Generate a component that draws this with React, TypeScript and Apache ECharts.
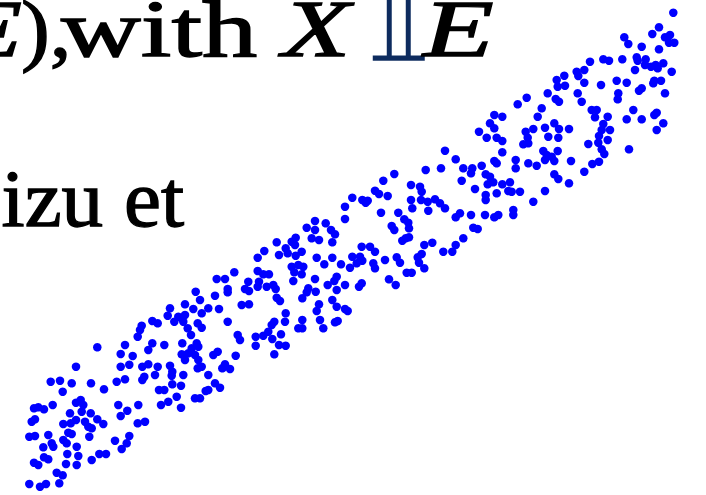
import React, { useEffect, useRef } from "react";
import * as echarts from "echarts";

// Scatter values, grouped in strips from lower-left to upper-right
const stripA: number[][] = [
  [97.3, 347.3], [125, 345], [120.7, 354], [132.7, 356], [76, 366.7], [120.7, 366.7], [129.3, 364.7],
  [50.7, 381.7], [60, 380.7], [62.7, 391.7], [71.7, 383.3], [91, 383.3], [104, 389.3], [116.7, 381.7],
  [125, 379.3], [34, 408.3], [38.3, 407.3], [44, 409.3], [52.7, 405], [76, 402.7], [80.7, 400], [83.3, 405],
  [81.7, 411.7], [70, 413.3], [90.7, 413.3], [118.3, 405], [127.3, 410.7], [120.7, 416], [31.7, 421.7],
  [35, 419.3], [63.3, 424], [70.7, 423.3], [76, 420], [85, 421.7], [88.3, 426.7], [91.7, 428.3], [97.3, 419.3],
  [103.3, 424], [29.3, 436.7], [35, 436], [48.3, 435], [68.3, 432.7], [71.7, 434], [63.3, 440], [89.3, 436.7],
  [66.7, 443.3], [76.7, 446.7], [53.3, 446.7], [43.3, 447.3], [51.7, 443.3], [115, 440.7], [129.3, 436],
  [126.7, 443.3], [121.7, 449], [67.3, 454], [78.3, 456], [91.7, 460], [99.3, 454], [106, 454], [44, 457.3],
  [48.3, 459.3], [34, 462.7], [38.3, 465], [66, 464], [76.7, 465], [56.7, 472.7], [62.7, 475.3], [29.3, 484],
  [40, 486.7], [46, 484], [59.3, 483.3],
];

const stripB: number[][] = [
  [234.3, 272.3], [216.7, 279], [225, 279], [195.7, 291.7], [227.7, 289], [227.7, 292.3], [215, 295.7],
  [200, 300], [185, 304.3], [170, 308.3], [193.3, 309], [208.3, 308.3], [219, 309], [167.7, 315.7],
  [178.3, 316.7], [181.7, 318.3], [185, 315], [201.7, 313.3], [241.7, 305], [152.3, 321], [157.7, 323.3],
  [174.3, 321.7], [183.3, 321.7], [187.7, 328.3], [197.7, 323.3], [201.7, 327.7], [227.7, 321.7], [191, 335],
  [141.7, 325.7], [140, 330], [137.7, 336.7], [237.7, 335], [240, 340], [182.3, 343.3], [196.7, 343.3],
  [164.3, 345], [152.3, 343.3], [148.3, 350], [191.7, 348.3], [198.3, 346.7], [181.7, 354.3], [185, 355],
  [188.3, 353.3], [195, 355], [185, 360], [198.3, 360], [213.3, 355], [217.7, 351.7], [235.7, 355.7],
  [142.3, 366.7], [148.3, 364.3], [157.7, 366.7], [170, 365.7], [172.3, 371.7], [197.7, 368.3], [201.7, 366.7],
  [225, 364.3], [222.3, 368.3], [230, 369], [142.3, 380], [144.3, 376.7], [155, 375], [171.7, 375.7],
  [183.3, 375], [208.3, 375], [172.3, 384.3], [181, 385.7], [215, 383.3], [220, 387.7], [159, 390],
  [164.3, 390], [205.7, 391], [208.3, 390], [176.7, 396.7], [168.3, 401.7], [161, 405], [195, 398.3],
  [200, 398.3], [181, 407.7], [138.3, 405], [137.7, 423.3], [145, 421.7],
];

const stripC: number[][] = [
  [352.3, 197.7], [345, 206.7], [345, 219], [315, 221], [325.7, 223.3], [306.7, 227.7], [315, 230], [331, 230],
  [335, 234.3], [295.7, 237.7], [276.7, 242.3], [291.7, 241.7], [285.7, 248.3], [295, 245], [311.7, 238.3],
  [319, 240], [332.3, 242.3], [264.3, 251], [257.7, 257.7], [279, 255], [287.7, 253.3], [301.7, 251.7],
  [295.7, 255.7], [316.7, 257.7], [332.3, 257.7], [324.3, 264.3], [341, 264.3], [352.3, 256.7], [350, 267.7],
  [291.7, 266.7], [298.3, 265], [303.3, 266.7], [257.7, 271], [263.3, 274.3], [269, 274.3], [294.3, 272.3],
  [301.7, 274.3], [293.3, 281], [315, 279], [336.7, 276.7], [334.3, 281], [259, 281.7], [248.3, 281.7],
  [245, 289], [249, 291], [257.7, 286.7], [266.7, 286.7], [273.3, 285], [275.7, 289], [327.7, 285], [345, 285],
  [308.3, 288.3], [315.7, 291.7], [306.7, 292.3], [302.3, 298.3], [336.7, 290], [276.7, 297.7], [280, 301],
  [249, 304.3], [332.3, 300], [319, 304.3], [336.7, 306.7], [345, 309], [347.7, 311], [316.7, 311],
  [285.7, 313.3], [285, 321.7], [274.3, 321.7], [271.7, 325], [320, 320], [302.3, 320], [337.7, 321],
  [335, 322.3], [298.3, 328.3], [302.3, 328.3], [323.3, 328.3], [268.3, 331.7], [263.3, 335.7], [255.7, 336.7],
  [281, 334.3], [272.3, 339], [255.7, 345.7], [279, 345], [285.7, 345.7], [274.3, 354.3],
];

const stripD: number[][] = [
  [445, 150.7], [455.7, 159.3], [463.3, 168.3], [425.7, 170], [441, 168.3], [394.3, 174], [383.3, 180.7],
  [461.7, 180.7], [411, 185], [420, 186.7], [421.7, 191.7], [375, 190.7], [379, 194], [387.7, 196],
  [362.3, 200], [367.7, 200.7], [365.7, 202.7], [411, 200], [421, 200], [427.7, 201.7], [435, 199.3],
  [440, 203.3], [445, 208.3], [412.3, 208.3], [428.3, 210.7], [381, 212.7], [398.3, 212.7], [455.7, 217.3],
  [460, 213.3], [404.3, 219.3], [408.3, 222.7], [409, 228.3], [391.7, 226], [394.3, 230], [405.7, 238.3],
  [409, 237.3], [402.3, 240.7], [424.3, 245], [432.3, 242.7], [463.3, 238.3], [455.7, 245], [452.3, 251.7],
  [443.3, 251.7], [361.7, 246.7], [370, 246.7], [375, 251.7], [360, 256.7], [356.7, 263.3], [362.3, 260.7],
  [373.3, 263.3], [375, 268.3], [385, 260], [396.7, 257.3], [400, 262.7], [417.7, 257.3], [421.7, 254],
  [419, 262.7], [424.3, 268.3], [406.7, 272.7], [411.7, 272.7], [389, 279.3], [395.7, 285], [361.7, 283.3],
  [359, 286.7],
];

const stripE: number[][] = [
  [564.3, 75.7], [556.7, 80], [565, 85.7], [557.7, 86.7], [547.7, 93.3], [555.7, 99], [559, 101.7],
  [526.7, 97.7], [517.7, 104.3], [541.7, 108.3], [537.7, 116.7], [494.3, 115], [502.3, 116.7], [490, 123.3],
  [494.3, 128.3], [479, 131.7], [486.7, 137.7], [496.7, 137.7], [502.3, 141], [525.7, 131.7], [533.3, 129],
  [527.7, 137.7], [523.3, 144.3], [528.3, 143.3], [545, 127.7], [554.3, 123.3], [559, 129], [569, 129],
  [548.3, 136.7], [558.3, 137.7], [502.3, 152.3], [543.3, 151], [546.7, 155], [551.7, 156.7], [557.7, 151],
  [545, 160], [554.3, 161], [571, 161], [515.7, 160], [528.3, 163.3], [536.7, 165.7], [494.3, 161],
  [496.7, 163.3], [515.7, 168.3], [472.3, 168.3], [471, 173.3], [481.7, 165.7], [485.7, 174.3], [490, 176.7],
  [487.7, 184.3], [493.3, 182.3], [502.3, 184.3], [510, 182.3], [508.3, 191], [511.7, 191.7], [520, 191.7],
  [496.7, 193.3], [475, 189], [485.7, 195], [485.7, 200], [545, 191], [554.3, 174.3], [558.3, 179],
  [569, 183.3], [533.3, 201.7], [471, 215], [485, 215], [494.3, 217.3], [498.3, 215], [513.3, 210],
  [513.3, 215], [473.3, 227.7], [477.7, 229],
];

const stripF: number[][] = [
  [673.3, 12.7], [659, 27.3], [652.3, 34], [665, 37.3], [670, 35], [669, 42.7], [674.3, 42.7], [624.3, 37.3],
  [628.3, 44], [641.7, 46.7], [659, 49.3], [622.3, 59.3], [636.7, 57.3], [637.7, 60.7], [645.7, 59.3],
  [645, 65], [651, 66.7], [655.7, 65], [657.7, 68.3], [663.3, 63.3], [635, 70], [671.7, 71.7], [603.3, 59.3],
  [609, 60.7], [590, 61.7], [584.3, 70], [576.7, 71.7], [578.3, 76], [584.3, 82.7], [601, 85], [616.7, 80.7],
  [626.7, 82.7], [654.3, 80.7], [661, 80.7], [653.3, 83.3], [639, 90.7], [641.7, 88.3], [665, 93.3],
  [618.3, 93.3], [617.7, 99.3], [577.7, 93.3], [581.7, 101.7], [591.7, 110], [596.7, 110], [595, 117.3],
  [607.7, 116.7], [633.3, 110], [626.7, 119.3], [641.7, 119.3], [656.7, 112.7], [654.3, 115], [663.3, 123.3],
  [656.7, 130], [603.3, 124], [601.7, 130], [610, 130], [599, 136], [598.3, 142.7], [607.7, 140],
  [601.7, 149.3], [604.3, 154], [588.3, 144], [629, 149.3], [599, 161.7], [592.3, 164], [584.3, 171.7],
];

const lineOne = ["E", "),", "with", "X", "\u2AEB", "E"];
const lineTwo = "izu et";

export default function App() {
  const ref = useRef<HTMLDivElement>(null);
  useEffect(() => {
    document.body.style.margin = "0";
    const chart = echarts.init(ref.current!, undefined, { renderer: "svg" });
    const serif = "'Liberation Serif', serif";
    const base = {
      fontFamily: serif,
      fontSize: 80,
      fontWeight: "normal",
      fill: "#000",
      stroke: "#000",
      lineWidth: 1.3,
      textVerticalAlign: "middle",
    };
    const y1 = 29;
    const y2 = 199;
    chart.setOption({
      animation: false,
      backgroundColor: "#ffffff",
      grid: { left: 0, right: 0, top: 0, bottom: 0 },
      xAxis: { type: "value", min: 0, max: 706, show: false },
      yAxis: { type: "value", min: 0, max: 495, inverse: true, show: false },
      graphic: [
        { type: "text", x: 22, y: y1, scaleX: 1.3, style: { ...base, text: lineOne[0], fontStyle: "italic", textAlign: "right" } },
        { type: "text", x: 21, y: y1, scaleX: 1.08, style: { ...base, text: lineOne[1], textAlign: "left" } },
        { type: "text", x: 61, y: y1, scaleX: 1.38, style: { ...base, text: lineOne[2], textAlign: "left" } },
        { type: "text", x: 282, y: y1, scaleX: 1.4, style: { ...base, text: lineOne[3], fontStyle: "italic", textAlign: "left" } },
        {
          type: "text",
          x: 398,
          y: 28,
          style: {
            ...base,
            text: lineOne[4],
            lineWidth: 0,
            stroke: "none",
            fontSize: 95,
            fontFamily: "'DejaVu Sans', sans-serif",
            fill: "#0d2b5e",
            textAlign: "center",
          },
        },
        { type: "text", x: 423, y: y1, scaleX: 1.45, style: { ...base, text: lineOne[5], fontStyle: "italic", textAlign: "left" } },
        { type: "text", x: 184, y: y2, scaleX: 1.04, style: { ...base, text: lineTwo, textAlign: "right" } },
      ],
      series: [
        {
          type: "scatter",
          symbol: "circle",
          symbolSize: 8.5,
          itemStyle: { color: "#0000ff", opacity: 1 },
          data: [...stripA, ...stripB, ...stripC, ...stripD, ...stripE, ...stripF],
        },
      ],
    });
    return () => chart.dispose();
  }, []);
  return <div ref={ref} style={{ position: "fixed", left: 0, top: 0, width: 706, height: 495 }} />;
}
